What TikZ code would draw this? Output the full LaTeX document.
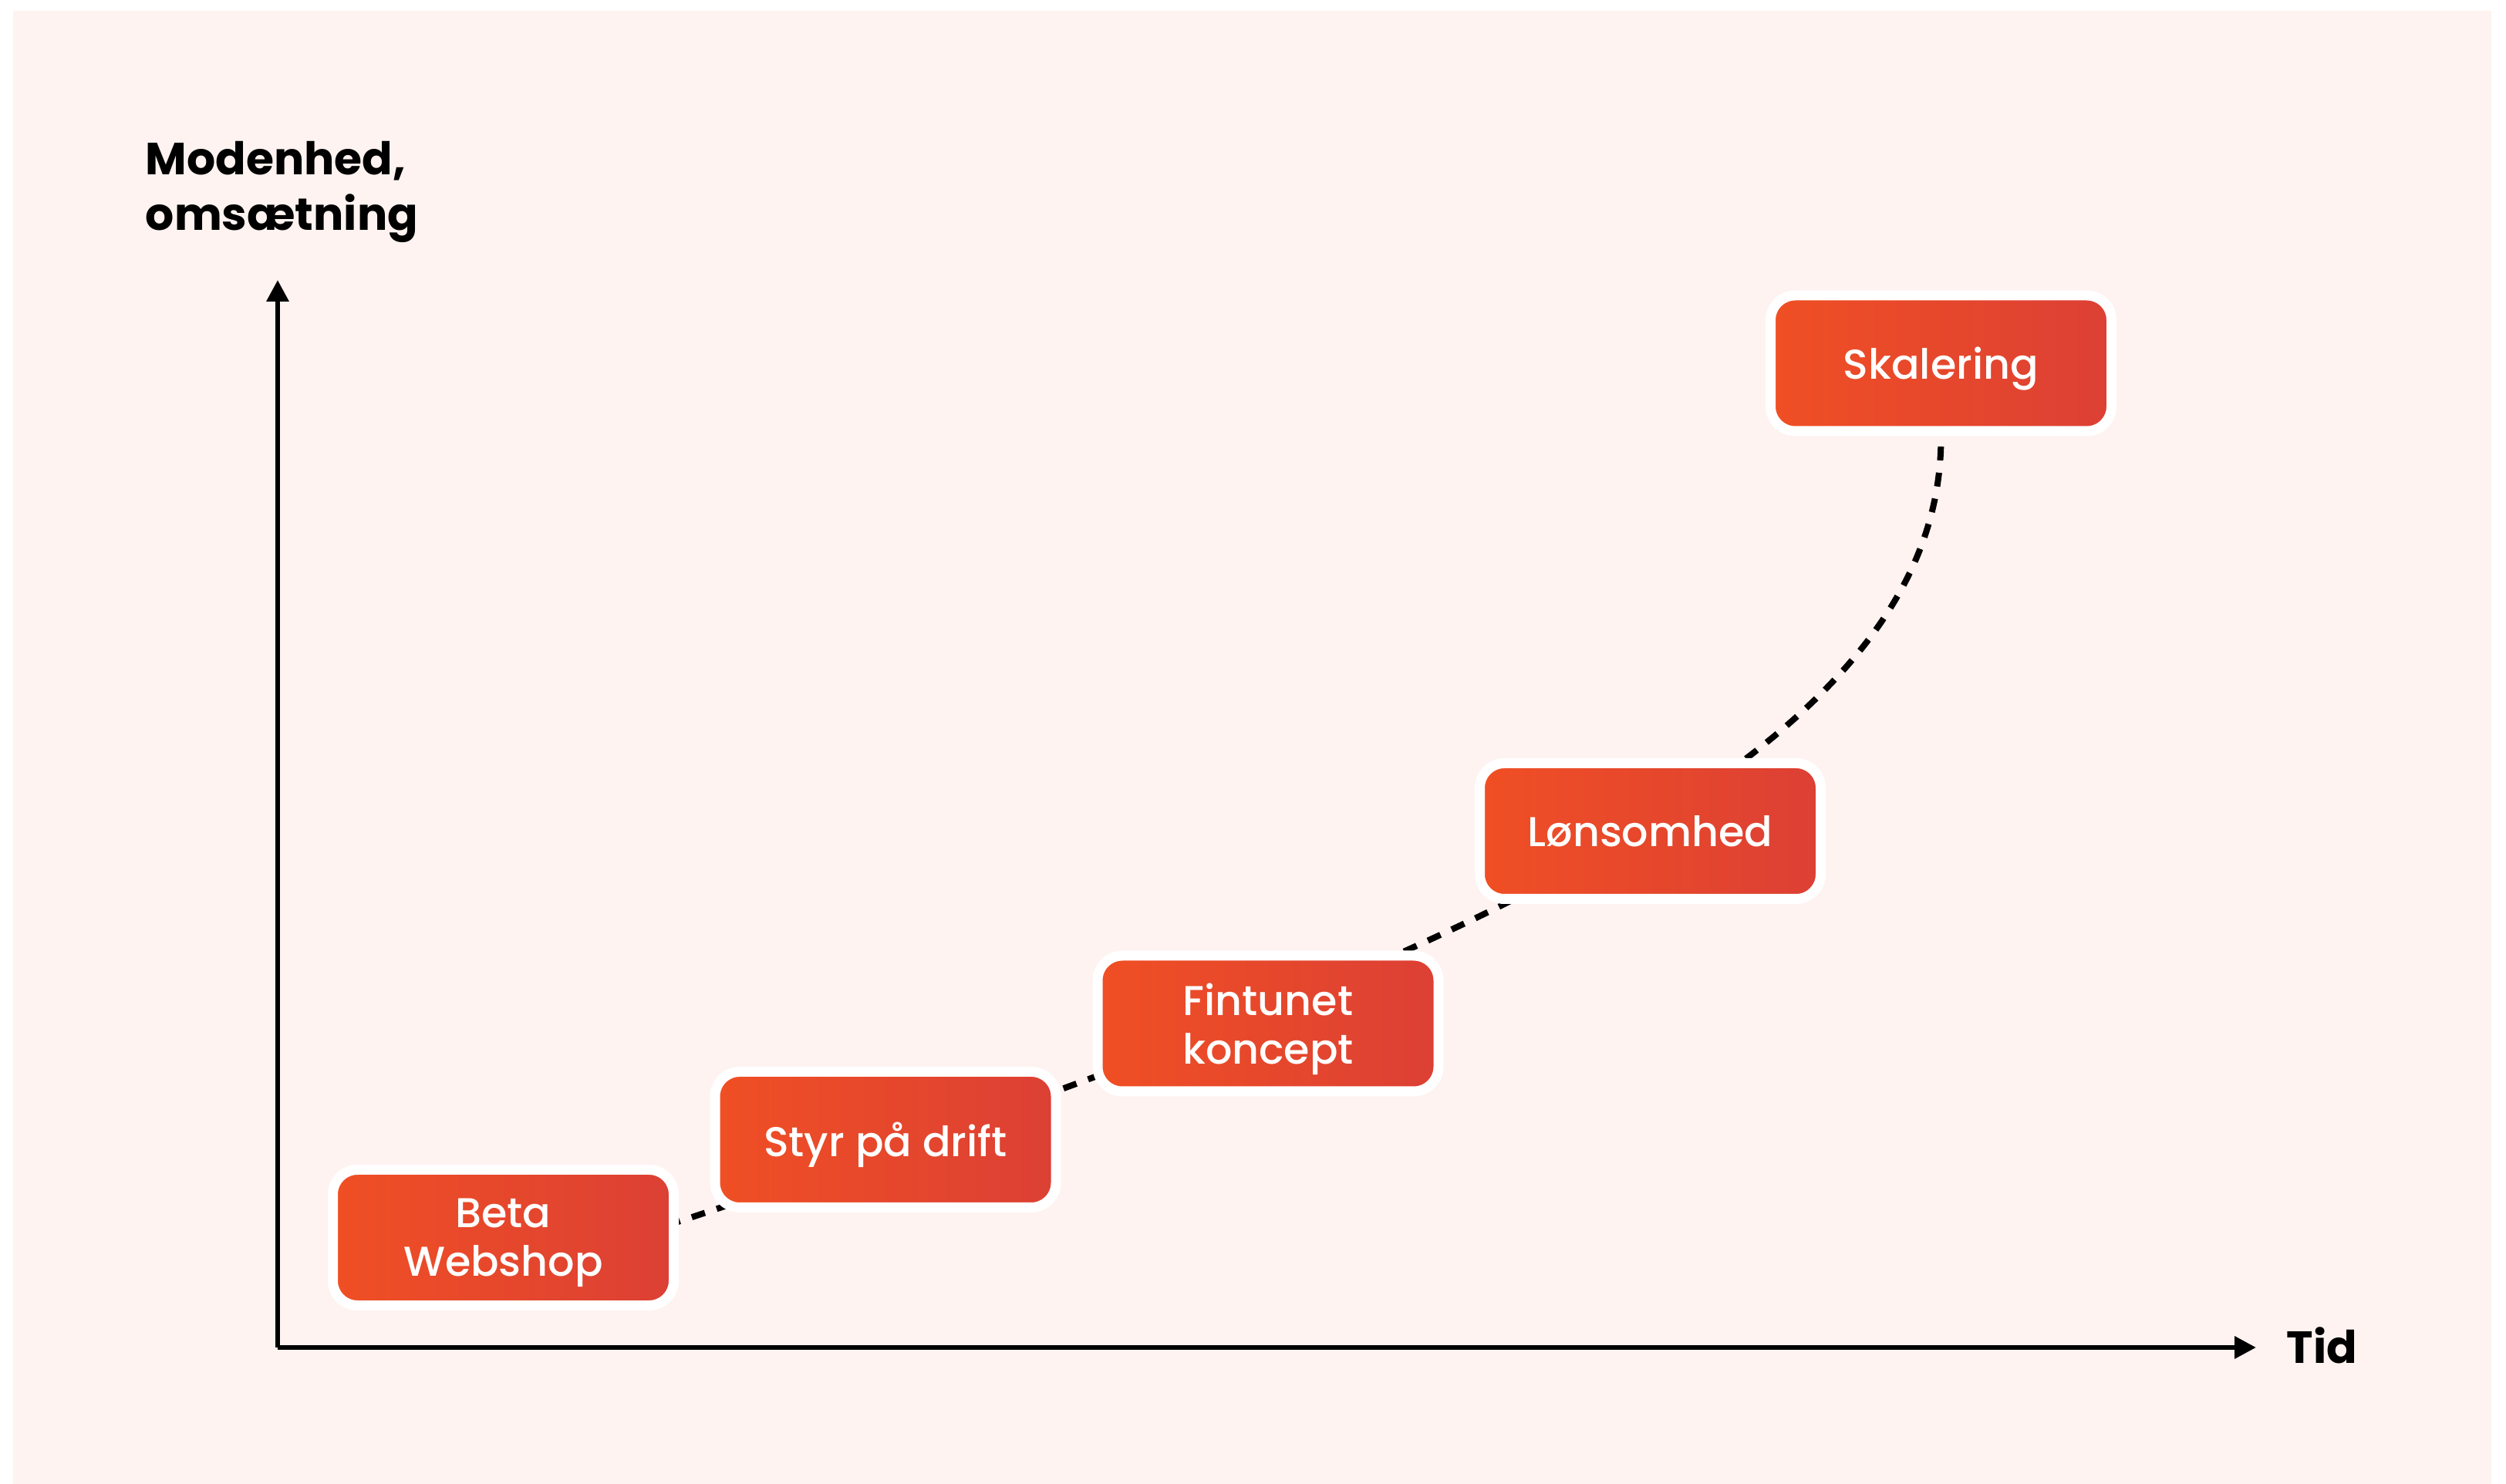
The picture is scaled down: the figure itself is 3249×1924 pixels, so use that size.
\documentclass[tikz,border=0pt]{standalone}
\usepackage{fontspec}
\setmainfont{Poppins}
\newfontfamily\medfont{Poppins Medium}
\usetikzlibrary{arrows.meta}
\definecolor{bgpink}{HTML}{FEF3F0}
\definecolor{boxL}{HTML}{F04F24}
\definecolor{boxR}{HTML}{DC4034}
\pgfdeclarelayer{bg}
\pgfdeclarelayer{mid}
\pgfsetlayers{bg,mid,main}
\tikzset{
  stagebox/.style={draw=white, line width=3.25pt, rounded corners=8pt,
    left color=boxL, right color=boxR, minimum width=110.5pt, minimum height=44pt,
    inner sep=0pt, align=center, text=white, text depth=0pt,
    font=\medfont\fontsize{13.5}{15.75}\selectfont},
  axislabel/.style={inner sep=0pt, align=left, text=black,
    font=\bfseries\fontsize{14.6}{18}\selectfont},
  axisline/.style={line width=1.6pt, -{Triangle[length=7pt, width=7pt]}},
  curvedash/.style={line width=2pt, dash pattern=on 4.5pt off 4pt}
}
\begin{document}
\begin{tikzpicture}[x=0.25pt, y=-0.25pt]
\begin{pgfonlayer}{bg}
  \fill[white] (0,0) rectangle (3249,1924);
  \fill[bgpink] (17,14) rectangle (3230,1924);
\end{pgfonlayer}
\useasboundingbox (0,0) rectangle (3249,1924);

\coordinate (origin) at (360,1747);
\coordinate (ytip) at (360,363);
\coordinate (xtip) at (2925,1747);
\draw[axisline] (origin) -- (ytip);
\draw[axisline] (origin) -- (xtip);

\node[axislabel, anchor=north west] (ylabel) at (188,182) {Modenhed,\\omsætning};
\node[axislabel, anchor=base west] (xlabel) at (2964,1768) {Tid};

\node[stagebox] (beta) at (652.5,1604.5) {Beta\\Webshop};
\node[stagebox] (styr) at (1148,1477.5) {Styr på drift};
\node[stagebox] (fin) at (1644,1327) {Fintunet\\koncept};
\node[stagebox] (lon) at (2139.5,1077.5) {Lønsomhed};
\node[stagebox] (skal) at (2516.5,471) {Skalering};

\coordinate (c0) at (800,1610);
\begin{pgfonlayer}{mid}
  \draw[curvedash] (c0) .. controls (1900,1250) and (2518,980) .. (skal.south);
\end{pgfonlayer}
\end{tikzpicture}
\end{document}
